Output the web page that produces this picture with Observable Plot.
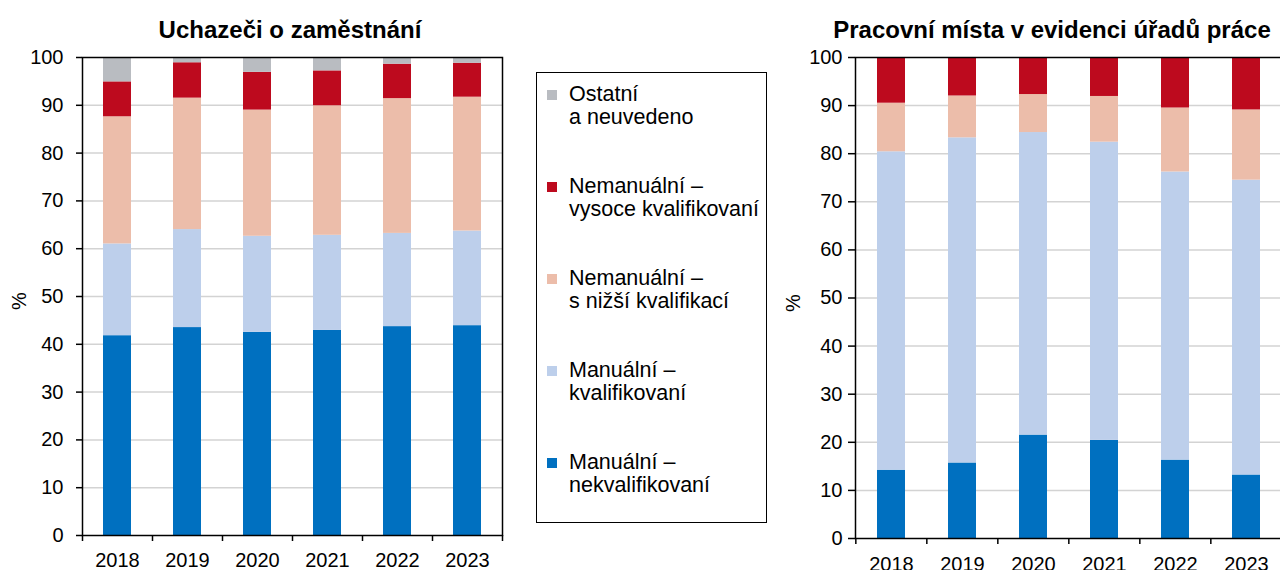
<!DOCTYPE html>
<html>
<head>
<meta charset="utf-8">
<script src="https://cdn.jsdelivr.net/npm/d3@7"></script>
<script src="https://cdn.jsdelivr.net/npm/@observablehq/plot@0.6"></script>
<style>
html, body { margin: 0; padding: 0; background: #fff; overflow: hidden; width: 1280px; height: 570px; }
body { position: relative; font-family: "Liberation Sans", Arial, sans-serif; color: #000; }
.abs { position: absolute; }
.title { font-weight: bold; font-size: 24px; line-height: 24px; white-space: nowrap; transform: translateX(-50%); }
.ylab { font-size: 20px; line-height: 20px; transform: translate(-50%, -50%) rotate(-90deg); }
#legend { left: 536px; top: 72px; width: 231px; height: 451px; border: 1px solid #000; box-sizing: border-box; }
.item { position: absolute; left: 0; }
.sw { position: absolute; left: 10px; top: 7px; width: 10px; height: 10px; }
.lt { position: absolute; left: 32px; top: 0; font-size: 21.5px; line-height: 23px; white-space: nowrap; }
</style>
</head>
<body>
<script>
// ---- data ----
const years = ["2018", "2019", "2020", "2021", "2022", "2023"];
// bottom to top of each stack
const categories = [
  "Manuální – nekvalifikovaní",
  "Manuální – kvalifikovaní",
  "Nemanuální – s nižší kvalifikací",
  "Nemanuální – vysoce kvalifikovaní",
  "Ostatní a neuvedeno"
];
const legendLines = [
  ["Manuální –", "nekvalifikovaní"],
  ["Manuální –", "kvalifikovaní"],
  ["Nemanuální –", "s nižší kvalifikací"],
  ["Nemanuální –", "vysoce kvalifikovaní"],
  ["Ostatní", "a neuvedeno"]
];
const colors = ["#0070c0", "#bdcfeb", "#ecbdaa", "#bd0a1e", "#b9bcc1"];
const yTicks = [0, 10, 20, 30, 40, 50, 60, 70, 80, 90, 100];

// Uchazeči o zaměstnání (%)
const uchNekval  = [41.8, 43.5, 42.5, 42.9, 43.7, 43.9];
const uchKval    = [19.2, 20.5, 20.1, 19.9, 19.5, 19.8];
const uchNizsi   = [26.6, 27.5, 26.4, 27.1, 28.2, 28.0];
const uchVysoce  = [7.3, 7.4, 7.9, 7.3, 7.2, 7.1];
const uchOstatni = [5.1, 1.1, 3.1, 2.8, 1.4, 1.2];

// Pracovní místa v evidenci úřadů práce (%)
const pmNekval  = [14.2, 15.7, 21.5, 20.4, 16.3, 13.2];
const pmKval    = [66.2, 67.6, 62.9, 62.0, 59.9, 61.3];
const pmNizsi   = [10.1, 8.7, 7.9, 9.5, 13.3, 14.6];
const pmVysoce  = [9.5, 8.0, 7.7, 8.1, 10.5, 10.9];
const pmOstatni = [0, 0, 0, 0, 0, 0];

const titleLeft = "Uchazeči o zaměstnání";
const titleRight = "Pracovní místa v evidenci úřadů práce";
const yLabel = "%";

// ---- helpers ----
function addDiv(cls, text, css) {
  const d = document.createElement("div");
  d.className = cls;
  if (text != null) d.textContent = text;
  Object.assign(d.style, css);
  document.body.appendChild(d);
  return d;
}

function makeChart(series, o) {
  const data = [];
  years.forEach((yr, i) => categories.forEach((c, k) => {
    if (series[k][i] > 0) data.push({year: yr, category: c, value: series[k][i]});
  }));
  const plotW = o.width - o.marginLeft - o.marginRight;
  const step = plotW / years.length;
  const tickOpts = {y1: 0, y2: 0, insetBottom: -6, stroke: "#000", strokeWidth: 1.5};
  return Plot.plot({
    width: o.width,
    height: 570,
    marginTop: 57,
    marginBottom: o.marginBottom,
    marginLeft: o.marginLeft,
    marginRight: o.marginRight,
    style: {fontFamily: '"Liberation Sans", Arial, sans-serif', fontSize: "20px", color: "#000", background: "transparent", overflow: "visible", maxWidth: "none"},
    x: {domain: years, paddingInner: 0.6, paddingOuter: 0.3, axis: null, label: null},
    y: {domain: [0, 100], axis: null, label: null},
    color: {domain: categories, range: colors},
    marks: [
      Plot.ruleY(yTicks.filter(t => t > 0 && t < 100), {stroke: "#d3d3d3", strokeWidth: 1.5}),
      Plot.barY(data, {x: "year", y: "value", fill: "category", order: categories}),
      Plot.frame({stroke: "#000", strokeWidth: 1.5}),
      Plot.axisY({ticks: yTicks, label: null, tickSize: o.tickSize, tickPadding: o.tickPadding, fontSize: 20, strokeWidth: 1.5, tickFormat: d => String(d)}),
      Plot.axisX({tickSize: 0, label: null, tickPadding: o.xPad, fontSize: 20}),
      Plot.ruleX(years, {x: d => d, dx: -step / 2, ...tickOpts}),
      Plot.ruleX(years.slice(-1), {x: d => d, dx: step / 2, ...tickOpts})
    ]
  });
}

// ---- left chart ----
const left = makeChart([uchNekval, uchKval, uchNizsi, uchVysoce, uchOstatni],
  {width: 520, marginLeft: 82, marginRight: 18, marginBottom: 35, tickSize: 6, tickPadding: 13, xPad: 17});
const leftBox = addDiv("abs", null, {left: "0px", top: "0px", width: "520px", height: "570px"});
leftBox.appendChild(left);

// ---- right chart ----
const right = makeChart([pmNekval, pmKval, pmNizsi, pmVysoce, pmOstatni],
  {width: 540, marginLeft: 95, marginRight: 17, marginBottom: 32, tickSize: 7, tickPadding: 6, xPad: 18});
const rightBox = addDiv("abs", null, {left: "760px", top: "0px", width: "540px", height: "570px"});
rightBox.appendChild(right);

// ---- titles & axis labels ----
addDiv("abs title", titleLeft, {left: "290px", top: "18px"});
addDiv("abs title", titleRight, {left: "1052px", top: "18px"});
addDiv("abs ylab", yLabel, {left: "19px", top: "301px"});
addDiv("abs ylab", yLabel, {left: "793px", top: "303px"});

// ---- legend ----
const legend = addDiv("abs", null, {});
legend.id = "legend";
const order = categories.map((c, k) => k).reverse();
order.forEach((k, i) => {
  const item = document.createElement("div");
  item.className = "item";
  item.style.top = (10 + i * 92) + "px";
  const sw = document.createElement("div");
  sw.className = "sw";
  sw.style.background = colors[k];
  const lt = document.createElement("div");
  lt.className = "lt";
  lt.innerHTML = legendLines[k].join("<br>");
  item.appendChild(sw);
  item.appendChild(lt);
  legend.appendChild(item);
});
</script>
</body>
</html>
